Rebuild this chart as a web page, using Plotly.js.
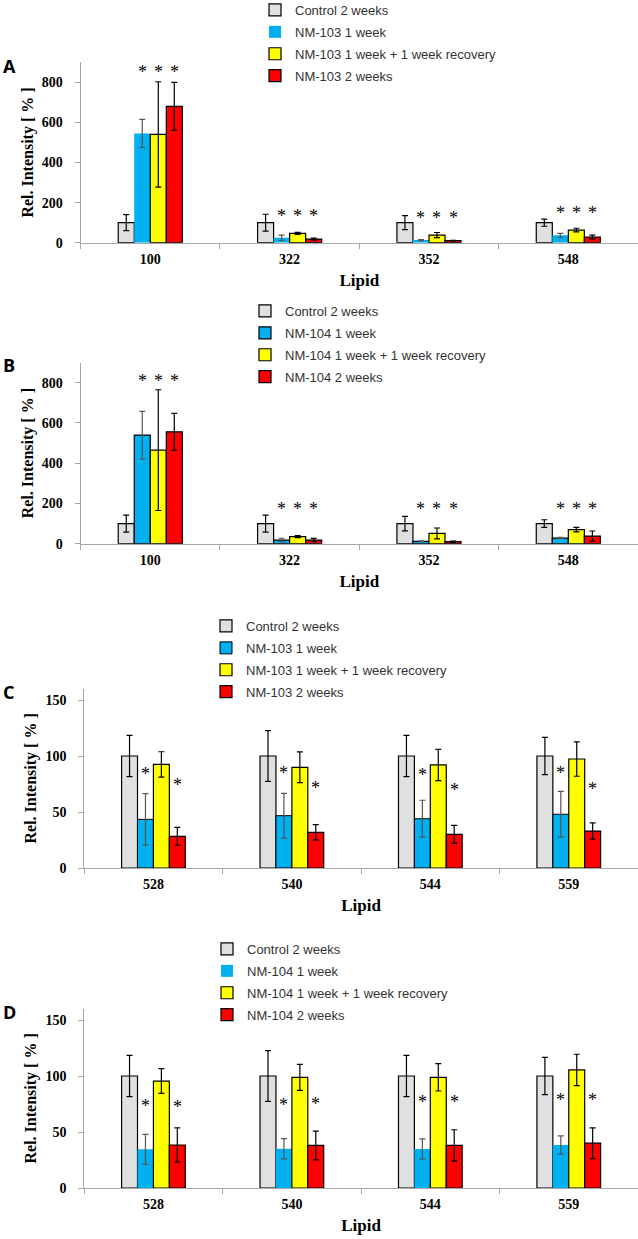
<!DOCTYPE html>
<html>
<head>
<meta charset="utf-8">
<script src="https://cdn.plot.ly/plotly-3.0.1.min.js"></script>
<style>
  html, body { margin: 0; padding: 0; background: #fff; }
  #plot { width: 638px; height: 1239px; }
</style>
</head>
<body>
<div id="plot"></div>
<script>
// categories
const lipidsAB = ['100', '322', '352', '548'];
const lipidsCD = ['528', '540', '544', '559'];

// series names
const namesA = ['Control 2 weeks', 'NM-103 1 week', 'NM-103 1 week + 1 week recovery', 'NM-103 2 weeks'];
const namesB = ['Control 2 weeks', 'NM-104 1 week', 'NM-104 1 week + 1 week recovery', 'NM-104 2 weeks'];

// values, one row per series (control, 1 week, 1 week + recovery, 2 weeks)
const valuesA = [[100, 100, 100, 100], [545, 25, 13, 37], [540, 47, 38, 63], [680, 18, 10, 28]];
const errorsA = [[40, 42, 35, 18], [70, 13, 3, 10], [263, 5, 13, 9], [120, 5, 2, 10]];
const valuesB = [[100, 100, 100, 100], [540, 18, 12, 28], [465, 35, 51, 70], [556, 18, 10, 38]];
const errorsB = [[42, 42, 36, 19], [118, 9, 2, 3], [300, 5, 27, 11], [92, 8, 3, 25]];
const valuesC = [[100, 100, 100, 100], [43.4, 46.7, 44, 48], [92.5, 89.9, 92, 97.3], [28.3, 31.8, 30, 33]];
const errorsC = [[18.4, 22.6, 18.4, 16.7], [23, 20, 16.5, 20.5], [11.3, 13.7, 14, 15.4], [8, 7, 8, 7.3]];
const valuesD = [[100, 100, 100, 100], [34.5, 35, 34.8, 38.4], [95.5, 98.8, 98.8, 105.4], [38.4, 38, 38, 40]];
const errorsD = [[18.4, 22.6, 18.4, 16.7], [13.4, 9, 9, 8.2], [11, 11.6, 12.2, 14], [15.3, 12.8, 14, 13.7]];

// significance stars: height per series per lipid (null = none)
const starsA = [[null, null, null, null], [858, 138, 130, 155], [858, 138, 130, 155], [858, 138, 130, 155]];
const starsB = [[null, null, null, null], [816, 179, 175, 179], [816, 179, 175, 179], [816, 179, 175, 179]];
const starsC = [[null, null, null, null], [85, 86, 83.6, 86], [null, null, null, null], [74.7, 72.6, 70.8, 71.7]];
const starsD = [[null, null, null, null], [74, 75, 78, 79.8], [null, null, null, null], [73, 76, 78, 79.8]];

const colors = ['#e0e0e0', '#00b0f0', '#ffff00', '#ff0000'];

const W = 638, H = 1239;
const px = x => x / W;
const py = y => 1 - y / H;

const BARGAP = 0.54;
const serif = 'Liberation Serif, Times New Roman, serif';
const sans = 'Liberation Sans, Arial, sans-serif';

// pixel boxes of each panel: left, right, y of zero, y of range top
const panels = [
  {id: '', letter: 'A', letterY: 66, cats: lipidsAB, names: namesA, vals: valuesA, errs: errorsA, stars: starsA,
   box: [80.6, 638, 242.7, 62.3], range: [0, 900], dtick: 200, legend: [255, -5], blueLine: 0},
  {id: '2', letter: 'B', letterY: 365, cats: lipidsAB, names: namesB, vals: valuesB, errs: errorsB, stars: starsB,
   box: [80.6, 638, 543.7, 362.6], range: [0, 900], dtick: 200, legend: [245, 296], blueLine: 1.2},
  {id: '3', letter: 'C', letterY: 692, cats: lipidsCD, names: namesA, vals: valuesC, errs: errorsC, stars: starsC,
   box: [84.2, 638, 868, 688.8], range: [0, 160], dtick: 50, legend: [206, 611], blueLine: 1},
  {id: '4', letter: 'D', letterY: 1012, cats: lipidsCD, names: namesB, vals: valuesD, errs: errorsD, stars: starsD,
   box: [84.2, 638, 1188, 1008.8], range: [0, 160], dtick: 50, legend: [207, 934], blueLine: 0}
];

const traces = [];
const annotations = [];
const layout = {
  width: W,
  height: H,
  margin: {l: 0, r: 0, t: 0, b: 0, autoexpand: false},
  paper_bgcolor: '#ffffff',
  plot_bgcolor: '#ffffff',
  barmode: 'group',
  bargap: BARGAP,
  bargroupgap: 0,
  showlegend: true,
  annotations: annotations
};

panels.forEach(p => {
  const xa = 'x' + p.id, ya = 'y' + p.id;
  const legendId = 'legend' + p.id;

  p.names.forEach((name, i) => {
    traces.push({
      type: 'bar',
      name: name,
      x: p.cats,
      y: p.vals[i],
      xaxis: xa,
      yaxis: ya,
      legend: legendId,
      legendgroup: legendId + '_' + i,
      marker: {
        color: colors[i],
        line: {color: '#000', width: i === 1 ? p.blueLine : 1.2}
      },
      error_y: {
        type: 'data',
        array: p.errs[i],
        color: i === 1 ? '#555' : '#000',
        thickness: 1.2,
        width: 3
      },
      hoverinfo: 'skip'
    });

    // stars above the bars
    const groupW = 1 - BARGAP;
    const off = -groupW / 2 + groupW / 4 * (i + 0.5);
    p.stars[i].forEach((s, c) => {
      if (s === null) return;
      annotations.push({
        xref: xa, yref: ya,
        x: c + off, y: s,
        text: '*',
        showarrow: false,
        yshift: -1,
        font: {family: serif, size: 18, color: '#000'}
      });
    });
  });

  const [l, r, y0, y1] = p.box;
  layout['xaxis' + p.id] = {
    domain: [px(l), px(r)],
    anchor: ya,
    type: 'category',
    showline: true,
    linecolor: '#a6a6a6',
    linewidth: 1,
    ticks: 'outside',
    tickson: 'boundaries',
    ticklen: 5,
    tickcolor: '#a6a6a6',
    ticklabelstandoff: 3,
    showgrid: false,
    zeroline: false,
    automargin: false,
    tickfont: {family: serif, size: 14, color: '#000', weight: 'bold'},
    title: {text: 'Lipid', standoff: 8, font: {family: serif, size: 17, color: '#000', weight: 'bold'}}
  };
  layout['yaxis' + p.id] = {
    domain: [py(y0), py(y1)],
    anchor: xa,
    range: p.range,
    dtick: p.dtick,
    showline: true,
    linecolor: '#a6a6a6',
    linewidth: 1,
    ticks: 'outside',
    ticklen: 5,
    tickcolor: '#a6a6a6',
    ticklabelstandoff: 9,
    showgrid: false,
    zeroline: false,
    automargin: false,
    tickfont: {family: serif, size: 14, color: '#000', weight: 'bold'},
    title: {text: 'Rel. Intensity [ % ]', standoff: 4, font: {family: serif, size: 16, color: '#000', weight: 'bold'}}
  };
  layout[legendId] = {
    x: px(p.legend[0]),
    y: py(p.legend[1]),
    xanchor: 'left',
    yanchor: 'top',
    orientation: 'v',
    bgcolor: 'rgba(0,0,0,0)',
    tracegroupgap: 2,
    itemclick: false,
    font: {family: sans, size: 13, color: '#333'}
  };

  annotations.push({
    xref: 'paper', yref: 'paper',
    x: px(1), y: py(p.letterY),
    xanchor: 'left', yanchor: 'middle',
    text: '<b>' + p.letter + '</b>',
    showarrow: false,
    font: {family: 'Open Sans, Noto Sans, sans-serif', size: 18, color: '#000'}
  });
});

Plotly.newPlot('plot', traces, layout, {displayModeBar: false, staticPlot: true});
</script>
</body>
</html>
